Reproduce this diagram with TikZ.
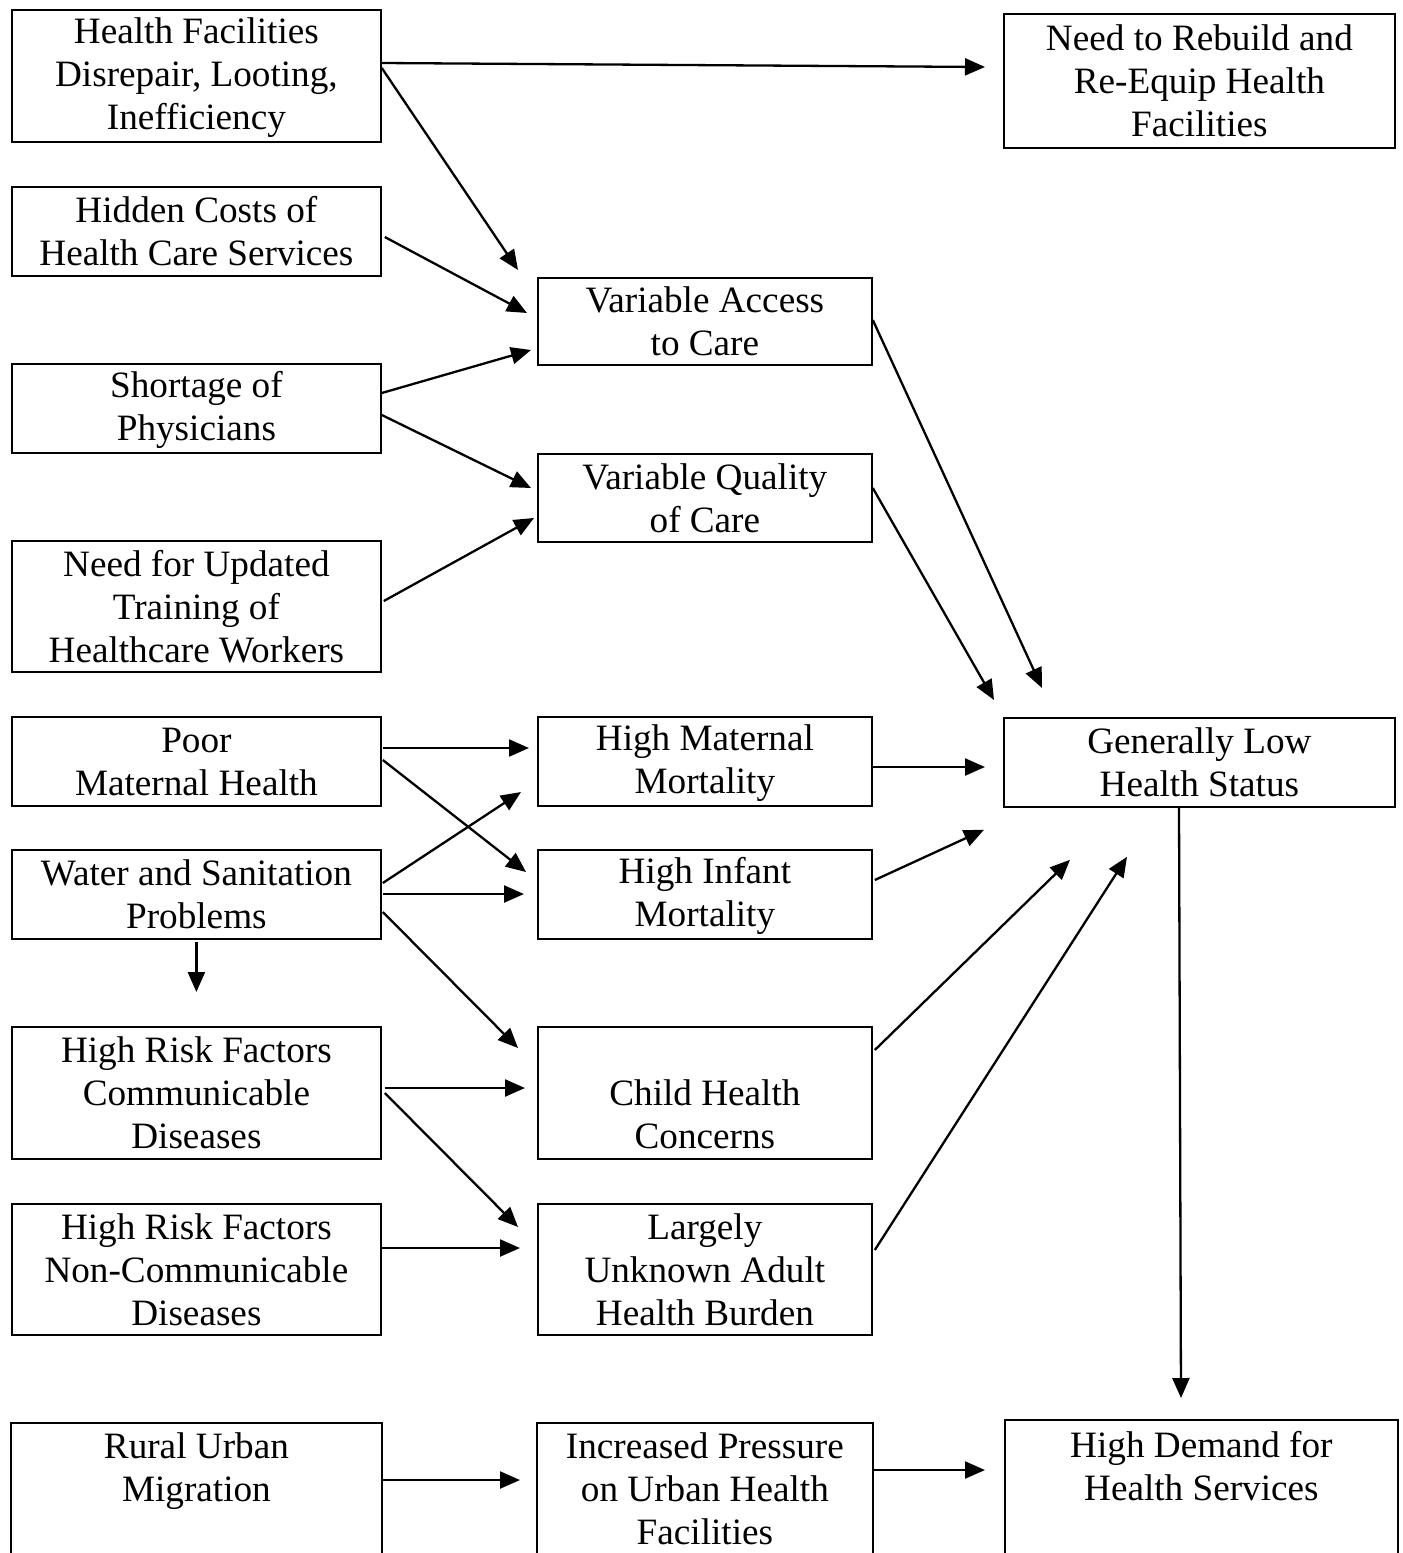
\documentclass[tikz,border=0pt]{standalone}
\usepackage{fontspec}
\setmainfont{Liberation Serif}
\usetikzlibrary{arrows.meta,calc}
\newcommand\bstrut{\rule[-2.4pt]{0pt}{0pt}}
\newcommand\fstrut{\rule[-2.4pt]{0pt}{15.05pt}}
\begin{document}
\begin{tikzpicture}[x=0.5pt,y=-0.5pt,
  box/.style={draw,line width=0.9pt,rectangle,inner sep=0pt,anchor=north west,align=center,
    font=\fontsize{18.6}{21.5}\selectfont},
  openbox/.style={box,draw=none},
  lcol/.style={minimum width=184.5pt},
  mcol/.style={minimum width=167pt},
  rcol/.style={minimum width=195.5pt},
  arr/.style={line width=1.15pt,-{Triangle[length=10pt,width=8.5pt]}}]
\useasboundingbox (0,0) rectangle (1403,1553);
% left column
\node[box,lcol,minimum height=66pt] (a1) at (11,9) {\strut Health Facilities\\Disrepair, Looting,\\Inefficiency\bstrut};
\node[box,lcol,minimum height=44.5pt] (a2) at (11,186) {\strut Hidden Costs of\\Health Care Services\bstrut};
\node[box,lcol,minimum height=44.5pt] (a3) at (11,363) {\strut Shortage of\\Physicians\bstrut};
\node[box,lcol,minimum height=65.5pt] (a4) at (11,540) {\strut Need for Updated\\Training of\\Healthcare Workers\bstrut};
\node[box,lcol,minimum height=44.5pt] (a5) at (11,716) {\strut Poor\\Maternal Health\bstrut};
\node[box,lcol,minimum height=44.5pt] (a6) at (11,849) {\strut Water and Sanitation\\Problems\bstrut};
\node[box,lcol,minimum height=66pt] (a7) at (11,1026) {\strut High Risk Factors\\Communicable\\Diseases\bstrut};
\node[box,lcol,minimum height=65.5pt] (a8) at (11,1203) {\strut High Risk Factors\\Non-Communicable\\Diseases\bstrut};
\node[openbox,lcol,minimum height=65pt] (a9) at (11,1423) {\strut Rural Urban\\Migration\\\fstrut};
% middle column
\node[box,mcol,minimum height=43.5pt] (b1) at (537,277) {\strut Variable Access\\to Care\bstrut};
\node[box,mcol,minimum height=44pt] (b2) at (537,453) {\strut Variable Quality\\of Care\bstrut};
\node[box,mcol,minimum height=44.5pt] (b3) at (537,716) {\strut High Maternal\\Mortality\bstrut};
\node[box,mcol,minimum height=44.5pt] (b4) at (537,849) {\strut High Infant\\Mortality\bstrut};
\node[box,mcol,minimum height=66pt] (b5) at (537,1026) {\strut\\Child Health\\Concerns\bstrut};
\node[box,mcol,minimum height=65.5pt] (b6) at (537,1203) {\strut Largely\\Unknown Adult\\Health Burden\bstrut};
\node[openbox,mcol,minimum height=65pt] (b7) at (537,1423) {\strut Increased Pressure\\on Urban Health\\Facilities\bstrut};
% right column
\node[box,rcol,minimum height=67pt] (c1) at (1003,13) {\strut Need to Rebuild and\\Re-Equip Health\\Facilities\bstrut};
\node[box,rcol,minimum height=44.5pt] (c2) at (1003,717) {\strut Generally Low\\Health Status\bstrut};
\node[openbox,rcol,minimum height=66.5pt] (c3) at (1005,1420) {\strut High Demand for\\Health Services\\\fstrut};
% open boxes (bottom edge cut off)
\foreach \n in {a9,b7,c3}
  \draw[line width=0.9pt] (\n.south west) |- (\n.north east) -- (\n.south east);
% connectors
\draw[arr] ($(a1.north east)+(0,54)$) -- ($(c1.north west)+(-18,54)$);
\draw[arr] ($(a1.north east)+(0,59)$) -- ($(b1.north west)+(-19,-7)$);
\draw[arr] ($(a2.north east)+(3,51)$) -- ($(b1.north west)+(-10,36)$);
\draw[arr] ($(a3.north east)+(0,30)$) -- ($(b1.north west)+(-6,73)$);
\draw[arr] ($(a3.north east)+(0,52)$) -- ($(b2.north west)+(-6,35)$);
\draw[arr] ($(a4.north east)+(2,61)$) -- ($(b2.north west)+(-3,65)$);
\draw[arr] ($(b1.north east)+(0,43)$) -- ($(c2.north west)+(39,-29)$);
\draw[arr] ($(b2.north east)+(0,35)$) -- ($(c2.north west)+(-9,-17)$);
\draw[arr] ($(a5.north east)+(1,32)$) -- ($(b3.north west)+(-8,32)$);
\draw[arr] ($(a5.north east)+(1,44)$) -- ($(b4.north west)+(-11,23)$);
\draw[arr] ($(a6.north east)+(1,34)$) -- ($(b3.north west)+(-16,76)$);
\draw[arr] ($(a6.north east)+(1,45)$) -- ($(b4.north west)+(-13,45)$);
\draw[arr] ($(a6.north east)+(1,63)$) -- ($(b5.north west)+(-19,22)$);
\draw[arr] ($(a6.south)+(0,2)$) -- ($(a7.north)+(0,-34)$);
\draw[arr] ($(a7.north east)+(3,62)$) -- ($(b5.north west)+(-12,62)$);
\draw[arr] ($(a7.north east)+(3,67)$) -- ($(b6.north west)+(-19,24)$);
\draw[arr] ($(a8.north east)+(-1,45)$) -- ($(b6.north west)+(-17,45)$);
\draw[arr] ($(b3.north east)+(0,51)$) -- ($(c2.north west)+(-18,50)$);
\draw[arr] ($(b4.north east)+(2,31)$) -- ($(c2.south west)+(-19,22)$);
\draw[arr] ($(b5.north east)+(2,24)$) -- ($(c2.south west)+(67,52)$);
\draw[arr] ($(b6.north east)+(2,47)$) -- ($(c2.south west)+(124,49)$);
\draw[arr] ($(c2.south west)+(176,0)$) -- ($(c3.north west)+(176,-22)$);
\draw[arr] ($(a9.north east)+(-1,57)$) -- ($(b7.north west)+(-17,57)$);
\draw[arr] ($(b7.north east)+(0,47)$) -- ($(c3.north west)+(-20,50)$);
\end{tikzpicture}
\end{document}
